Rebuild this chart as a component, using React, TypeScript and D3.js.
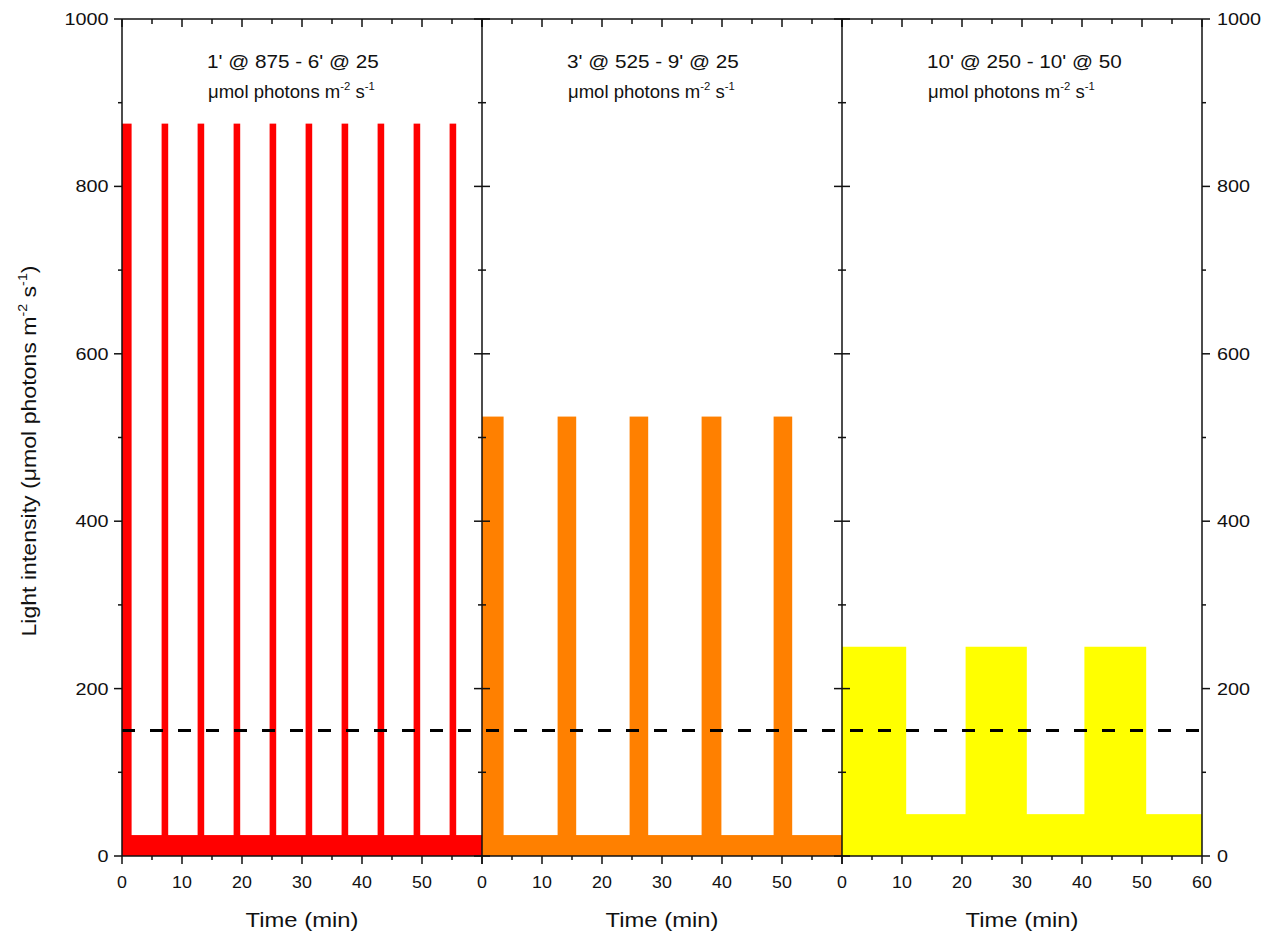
import React from "react";
import * as d3 from "d3";

// Light regimes: one panel per regime, each a 60 min cycle of high/low light steps
const panelTitles = ["1' @ 875 - 6' @ 25", "3' @ 525 - 9' @ 25", "10' @ 250 - 10' @ 50"];
const panelColors = ["#ff0000", "#ff8000", "#ffff00"];
const highLevels = [875, 525, 250];
const lowLevels = [25, 25, 50];

// Start and end (min) of the high-light phases in each panel
const pulseStarts1 = [0, 6.6, 12.6, 18.6, 24.6, 30.6, 36.6, 42.6, 48.6, 54.6];
const pulseEnds1 = [1.6, 7.7, 13.7, 19.7, 25.7, 31.7, 37.7, 43.7, 49.7, 55.7];
const pulseStarts2 = [0, 12.6, 24.6, 36.6, 48.6];
const pulseEnds2 = [3.6, 15.7, 27.7, 39.9, 51.7];
const pulseStarts3 = [0, 20.6, 40.4];
const pulseEnds3 = [10.7, 30.8, 50.7];

const thresholdLevel = 150;

const yMajorTicks = [0, 200, 400, 600, 800, 1000];
const yMinorTicks = [100, 300, 500, 700, 900];
const xMajorTicks = [0, 10, 20, 30, 40, 50, 60];
const xMinorTicks = [5, 15, 25, 35, 45, 55];
const xTickLabelsInner = ["0", "10", "20", "30", "40", "50"];
const xTickLabelsLast = ["0", "10", "20", "30", "40", "50", "60"];

const W = 1275;
const H = 938;
const plotLeft = 122;
const plotTop = 19;
const plotBottom = 856;
const panelWidth = 360;
const FONT = "'Liberation Sans', Arial, sans-serif";

const y = d3.scaleLinear().domain([0, 1000]).range([plotBottom, plotTop]);

function STxt(props: {
  x: number;
  y: number;
  sx?: number;
  rotate?: number;
  anchor?: string;
  size: number;
  children: React.ReactNode;
}) {
  const { x, y: yy, sx = 1, rotate = 0, anchor = "start", size, children } = props;
  return (
    <g transform={`translate(${x},${yy}) rotate(${rotate}) scale(${sx},1)`}>
      <text x={0} y={0} textAnchor={anchor} fontSize={size} fontFamily={FONT} fill="#111">
        {children}
      </text>
    </g>
  );
}

export default function App() {
  const pulses = [
    { starts: pulseStarts1, ends: pulseEnds1 },
    { starts: pulseStarts2, ends: pulseEnds2 },
    { starts: pulseStarts3, ends: pulseEnds3 },
  ];
  const xScales = [0, 1, 2].map((i) =>
    d3.scaleLinear().domain([0, 60]).range([plotLeft + i * panelWidth, plotLeft + (i + 1) * panelWidth])
  );
  const plotRight = plotLeft + 3 * panelWidth;
  const axisStroke = 1.5;

  return (
    <svg
      width={W}
      height={H}
      viewBox={`0 0 ${W} ${H}`}
      style={{ position: "absolute", left: 0, top: 0, background: "#fff" }}
    >
      <rect x={0} y={0} width={W} height={H} fill="#fff" />

      {/* light steps */}
      {xScales.map((x, i) => (
        <g key={`panel-${i}`}>
          <rect
            x={x(0)}
            y={y(lowLevels[i])}
            width={x(60) - x(0)}
            height={y(0) - y(lowLevels[i])}
            fill={panelColors[i]}
          />
          {pulses[i].starts.map((s, k) => (
            <rect
              key={k}
              x={x(s)}
              y={y(highLevels[i])}
              width={x(pulses[i].ends[k]) - x(s)}
              height={y(0) - y(highLevels[i])}
              fill={panelColors[i]}
            />
          ))}
        </g>
      ))}

      {/* threshold */}
      <line
        x1={plotLeft}
        x2={plotRight}
        y1={y(thresholdLevel)}
        y2={y(thresholdLevel)}
        stroke="#000"
        strokeWidth={3}
        strokeDasharray="13,15"
      />

      {/* frame */}
      <line x1={plotLeft} x2={plotRight} y1={plotTop} y2={plotTop} stroke="#111" strokeWidth={axisStroke} />
      <line x1={plotLeft} x2={plotRight} y1={plotBottom} y2={plotBottom} stroke="#111" strokeWidth={axisStroke} />
      {[0, 1, 2, 3].map((i) => {
        const xx = plotLeft + i * panelWidth;
        return <line key={`v${i}`} x1={xx} x2={xx} y1={plotTop} y2={plotBottom} stroke="#111" strokeWidth={axisStroke} />;
      })}

      {/* vertical axis ticks */}
      {[0, 1, 2, 3].map((i) => {
        const xx = plotLeft + i * panelWidth;
        const left = i < 3;
        const right = i > 0;
        return (
          <g key={`vt${i}`} stroke="#111" strokeWidth={axisStroke}>
            {yMajorTicks.map((t) => (
              <line key={`M${t}`} x1={left ? xx - 8 : xx} x2={right ? xx + 8 : xx} y1={y(t)} y2={y(t)} />
            ))}
            {yMinorTicks.map((t) => (
              <line key={`m${t}`} x1={left ? xx - 4 : xx} x2={right ? xx + 4 : xx} y1={y(t)} y2={y(t)} />
            ))}
          </g>
        );
      })}

      {/* horizontal axis ticks */}
      {xScales.map((x, i) => (
        <g key={`ht${i}`} stroke="#111" strokeWidth={axisStroke}>
          {xMajorTicks.map((t) => (
            <g key={`M${t}`}>
              <line x1={x(t)} x2={x(t)} y1={plotBottom} y2={plotBottom + 8} />
              <line x1={x(t)} x2={x(t)} y1={plotTop} y2={plotTop + 8} />
            </g>
          ))}
          {xMinorTicks.map((t) => (
            <g key={`m${t}`}>
              <line x1={x(t)} x2={x(t)} y1={plotBottom} y2={plotBottom + 4} />
              <line x1={x(t)} x2={x(t)} y1={plotTop} y2={plotTop + 5} />
            </g>
          ))}
        </g>
      ))}

      {/* y tick labels */}
      {yMajorTicks.map((t) => (
        <g key={`yl${t}`}>
          <STxt x={108.5} y={y(t) + 6} sx={1.2} anchor="end" size={16.5}>
            {String(t)}
          </STxt>
          <STxt x={1217} y={y(t) + 6} sx={1.2} anchor="start" size={16.5}>
            {String(t)}
          </STxt>
        </g>
      ))}

      {/* x tick labels, titles and axis titles per panel */}
      {xScales.map((x, i) => {
        const labels = i === 2 ? xTickLabelsLast : xTickLabelsInner;
        const x0 = x(0);
        return (
          <g key={`xl${i}`}>
            {labels.map((lab, k) => (
              <STxt key={lab} x={x(xMajorTicks[k])} y={888} sx={1.08} anchor="middle" size={16.5}>
                {lab}
              </STxt>
            ))}
            <STxt x={x0 + 180} y={927} sx={1.22} anchor="middle" size={19.5}>
              Time (min)
            </STxt>
            <STxt x={x0 + 85} y={68} sx={1.15} anchor="start" size={18}>
              {panelTitles[i]}
            </STxt>
            <STxt x={x0 + 86} y={98} sx={1.03} anchor="start" size={18}>
              <tspan>μmol photons m</tspan>
              <tspan fontSize={11} dy={-8}>-2</tspan>
              <tspan dy={8}> s</tspan>
              <tspan fontSize={11} dy={-8}>-1</tspan>
            </STxt>
          </g>
        );
      })}

      {/* y axis title */}
      <STxt x={35.5} y={451} rotate={-90} sx={1.1} anchor="middle" size={21}>
        <tspan>Light intensity (μmol photons m</tspan>
        <tspan fontSize={13} dy={-9}>-2</tspan>
        <tspan dy={9}> s</tspan>
        <tspan fontSize={13} dy={-9}>-1</tspan>
        <tspan dy={9}>)</tspan>
      </STxt>
    </svg>
  );
}
